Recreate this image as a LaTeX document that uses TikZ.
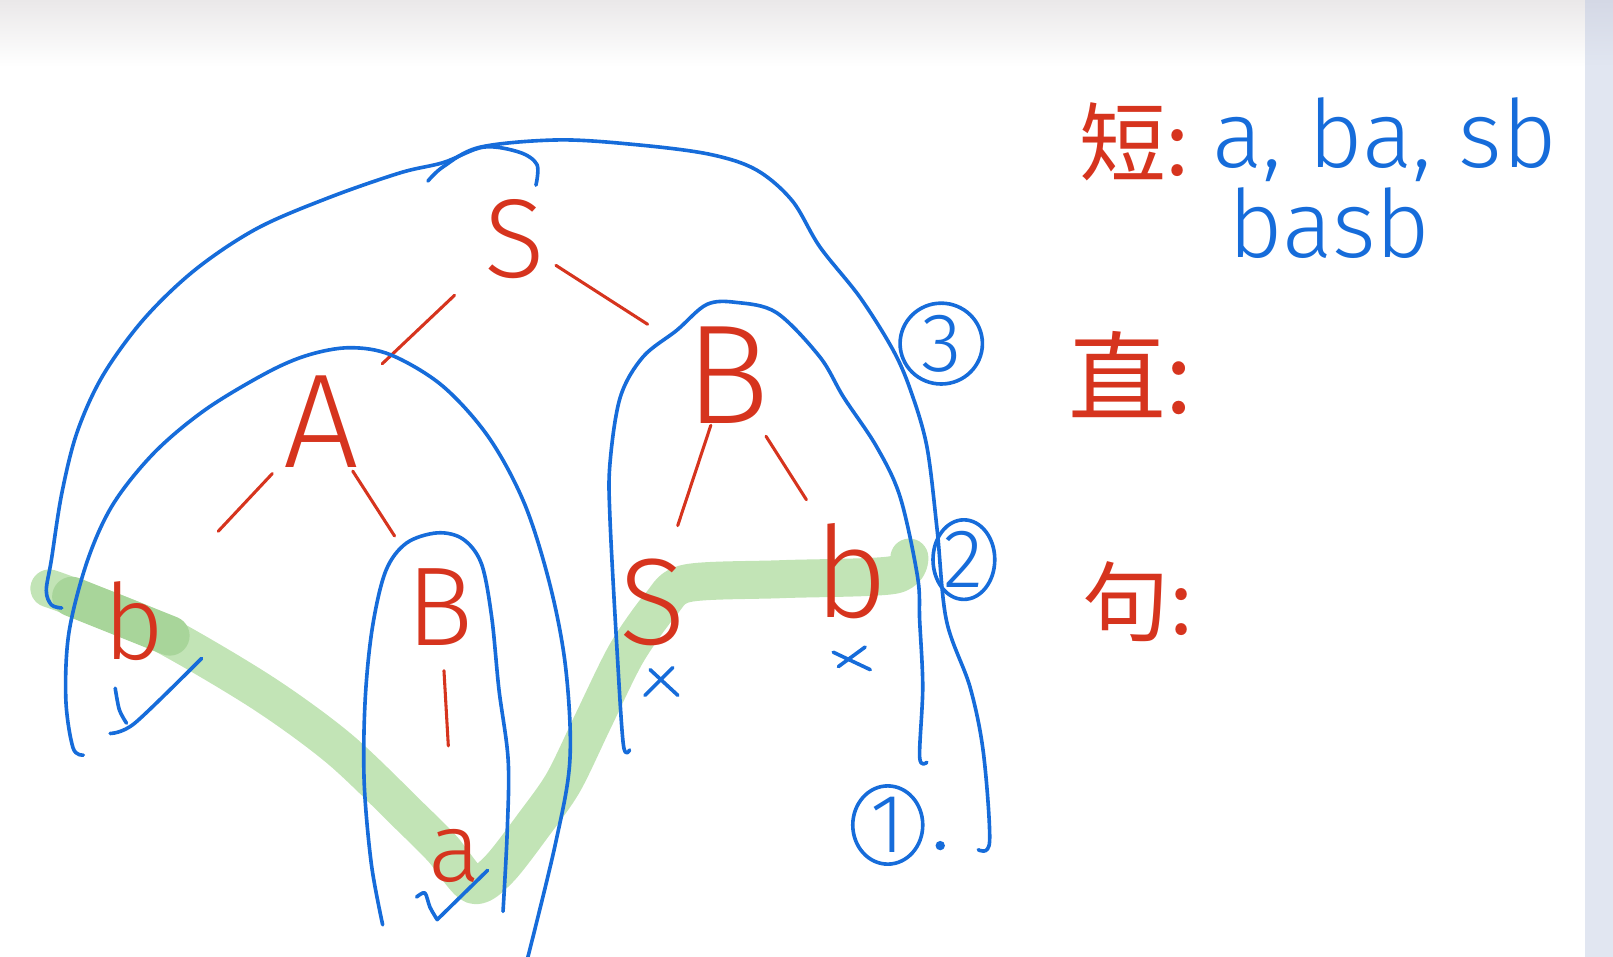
\documentclass[tikz,border=0pt]{standalone}
\usepackage{fontspec}
\setmainfont{Fira Sans Light}
\newfontfamily\cjk{Noto Sans CJK SC}
\usetikzlibrary{positioning,shapes.geometric}
\definecolor{hred}{RGB}{214,52,30}
\definecolor{hblue}{RGB}{22,108,218}
\definecolor{hgreen}{RGB}{194,228,182}
\definecolor{hgreendk}{RGB}{168,213,154}
\definecolor{topgray}{RGB}{234,232,233}
\definecolor{sidebar}{RGB}{225,230,241}
\definecolor{sidebardk}{RGB}{212,216,229}
\begin{document}
\begin{tikzpicture}[x=0.01cm, y=-0.01cm, line cap=round, line join=round,
    pen/.style={hblue, line width=1pt},
    edge/.style={hred, line width=0.85pt},
    sym/.style={text=hred, inner sep=0pt, font=\fontsize{#1}{#1}\selectfont},
    num/.style={draw=hblue, line width=1pt, ellipse, inner sep=0pt, text=hblue, font=\fontsize{23}{23}\selectfont},
    note/.style={text=hred, inner sep=0pt, font=\cjk\fontsize{#1}{#1}\selectfont},
    answer/.style={text=hblue, inner sep=0pt, anchor=base west, font=\fontsize{26}{26}\selectfont},
    hl/.style={hgreen, line width=10.5pt}]
\useasboundingbox (0,0) rectangle (1568,930);
\shade[top color=topgray, bottom color=white] (0,0) rectangle (1541,65);
\shade[top color=sidebardk, bottom color=sidebar] (1541,0) rectangle (1568,65);
\fill[sidebar] (1541,65) rectangle (1568,930);
% highlighted frontier
\draw[hl] plot[smooth, tension=0.5] coordinates {(48,572) (70,580) (150,612) (253,672) (330,728) (400,795) (430,825) (460,860) (485,845) (520,800) (548,760) (577,700) (609,635) (642,588) (668,567) (760,563) (868,559) (884,542)};
\draw[hgreendk, line width=11pt] (70,580) -- (165,618);
% parse tree
\node[sym=31] (S) at (500,232) {S};
\node[sym=37] (A) at (312,410) {A};
\node[sym=31] (B) at (428,590) {B};
\node[sym=29] (b) at (130,604) {b};
\node[sym=27] (a) at (442,832) {a};
\node[sym=39] (B2) at (707,365) {B};
\node[sym=34] (S2) at (634,586) {S};
\node[sym=35] (b2) at (828,555) {b};
\draw[edge, shorten <=0.8cm, shorten >=0.82cm] (S.center) -- (A.center);
\draw[edge, shorten <=0.48cm, shorten >=0.92cm] (S.center) -- (B2.center);
\draw[edge, shorten <=0.69cm, shorten >=1.2cm] (A.center) -- (b.center);
\draw[edge, shorten <=0.57cm, shorten >=0.82cm] (A.center) -- (B.center);
\draw[edge, shorten <=0.62cm, shorten >=1.07cm] (B.center) -- (a.center);
\draw[edge, shorten <=0.51cm, shorten >=0.79cm] (B2.center) -- (S2.center);
\draw[edge, shorten <=0.7cm, shorten >=0.82cm] (B2.center) -- (b2.center);
% phrase outlines
\draw[pen] plot[smooth, tension=0.55] coordinates {(60,591) (50,588) (45,574) (50,544) (60,480) (75,420) (100,365) (140,310) (190,262) (250,222) (320,192) (389,168) (431,158) (470,143) (505,148) (522,160) (521,180)};
\draw[pen] plot[smooth, tension=0.55] coordinates {(416,176) (431,162) (467,143) (544,136) (622,141) (690,150) (735,165) (770,195) (797,240) (836,289) (868,340) (885,379) (901,434) (911,515) (920,603) (943,668) (956,732) (962,818) (951,826)};
\draw[pen] plot[smooth, tension=0.55] coordinates {(81,734) (71,727) (64,680) (67,615) (85,545) (110,490) (150,440) (200,398) (260,362) (300,345) (340,338) (380,345) (430,375) (475,425) (510,490) (535,570) (550,650) (554,739) (540,820) (512,935)};
\draw[pen] plot[smooth, tension=0.55] coordinates {(372,899) (361,840) (354,760) (355,680) (362,610) (375,555) (395,528) (425,518) (450,524) (468,548) (478,600) (485,670) (494,739) (493,810) (489,886)};
\draw[pen] plot[smooth, tension=0.55] coordinates {(612,729) (606,724) (600,635) (593,505) (593,450) (603,386) (625,347) (658,321) (687,296) (716,294) (755,304) (797,347) (820,386) (852,434) (875,483) (892,561) (894,603) (897,668) (894,736) (901,741)};
\node[num, minimum width=0.8cm, minimum height=0.7cm] (n3) at (915,334) {3};
\node[num, minimum width=0.6cm, minimum height=0.64cm] (n2) at (937,544) {2};
\node[num, minimum width=0.68cm, minimum height=0.64cm] (n1) at (863,802) {1};
\fill[hblue] (914,822) circle (1.3pt);
% marks
\draw[pen] plot[smooth] coordinates {(112,669) (116,690) (123,703)};
\draw[pen] plot[smooth] coordinates {(107,713) (131,703) (196,640)};
\draw[pen] plot[smooth] coordinates {(405,872) (413,868) (418,882) (425,894)} -- (474,846);
\draw[pen] (627,676) -- (654,649) (632,651) -- (659,676);
\draw[pen] (815,648) -- (841,629) (810,634) -- (846,651);
% notes
\node[note=24] (duan) at (1103,138) {短:};
\node[answer] (duanlist) at (1178,163) {a, ba, sb};
\node[answer] (duanall) at (1194,250) {basb};
\node[note=27] (zhi) at (1099,364) {直:};
\node[note=24] (ju) at (1106,585) {句:};
\end{tikzpicture}
\end{document}
